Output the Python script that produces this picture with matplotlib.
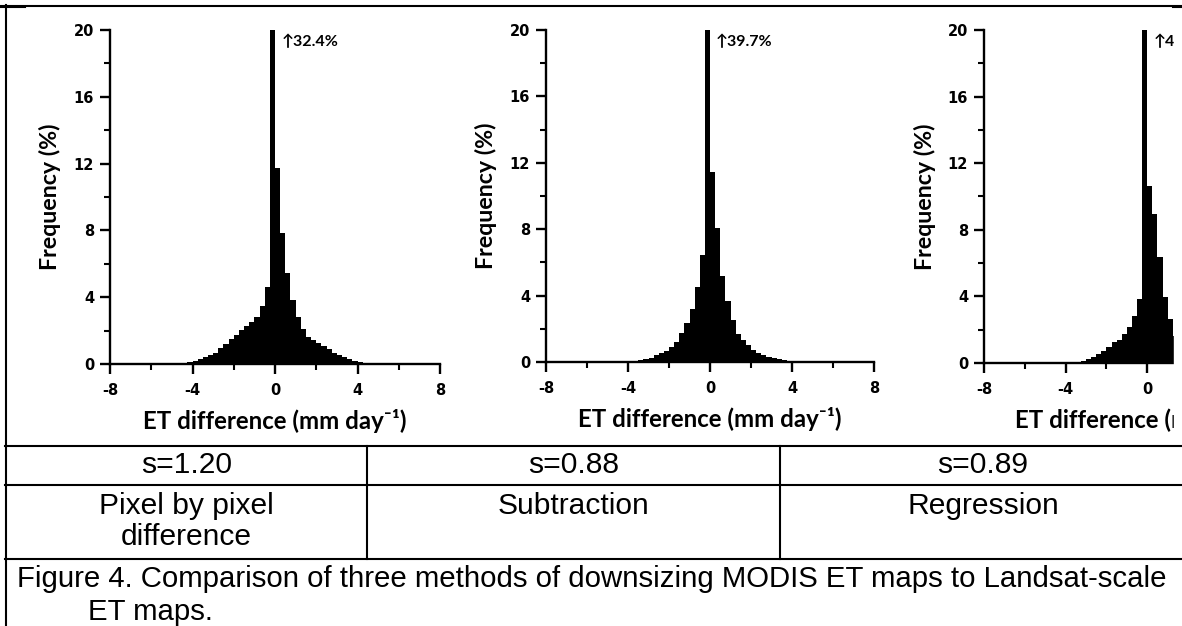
import matplotlib
matplotlib.use("Agg")
import matplotlib.pyplot as plt
import numpy as np
from matplotlib.patches import Rectangle

bold_font = ['Lato', 'DejaVu Sans']
plt.rcParams['axes.unicode_minus'] = False
plt.rcParams['font.family'] = bold_font
plt.rcParams['font.weight'] = 'bold'
plt.rcParams['axes.labelweight'] = 'bold'

# ---------------- data ----------------
bin_width = 0.25
edges_start = -5.0

freq_pixel = [0.01, 0.03, 0.06, 0.12, 0.20, 0.28, 0.40, 0.54, 0.68, 0.94,
              1.20, 1.48, 1.74, 2.03, 2.27, 2.53, 2.83, 3.45, 4.63, 32.4,
              11.76, 7.86, 5.43, 3.85, 2.80, 2.10, 1.64, 1.44, 1.24, 1.08,
              0.92, 0.66, 0.54, 0.42, 0.32, 0.20, 0.12, 0.07, 0.04, 0.02]
freq_subtraction = [0.0, 0.01, 0.01, 0.02, 0.04, 0.06, 0.10, 0.18, 0.27, 0.40,
                    0.53, 0.69, 0.91, 1.18, 1.72, 2.34, 3.20, 4.53, 6.44, 39.7,
                    11.46, 8.08, 5.17, 3.66, 2.55, 1.71, 1.31, 1.00, 0.70, 0.54,
                    0.40, 0.30, 0.22, 0.16, 0.10, 0.06, 0.03, 0.02, 0.01, 0.0]
# regression panel is cut at the right edge of the picture; peak bar clipped at 20
freq_regression = [0.0, 0.0, 0.01, 0.01, 0.02, 0.04, 0.08, 0.15, 0.26, 0.39,
                   0.55, 0.75, 0.97, 1.24, 1.39, 1.74, 2.14, 2.82, 3.86, 40.0,
                   10.66, 8.94, 6.38, 3.99, 2.62, 1.65]

peak_labels = ["\u219132.4%", "\u219139.7%", "\u21914"]
s_values = ["s=1.20", "s=0.88", "s=0.89"]
methods = ["Pixel by pixel\ndifference", "Subtraction", "Regression"]
caption_1 = "Figure 4. Comparison of three methods of downsizing MODIS ET maps to Landsat-scale"
caption_2 = "ET maps."
xticks = [-8, -4, 0, 4, 8]
yticks = [0, 4, 8, 12, 16, 20]

W, H = 1182, 626
fig = plt.figure(figsize=(W / 100, H / 100), dpi=100)

# panel geometry in pixels: (x of -8, x of +8, y of 0, y of 20)
panels = [(110, 440, 364, 30), (546, 874, 362, 30), (984, 1310.4, 363, 30)]
series = [freq_pixel, freq_subtraction, freq_regression]
visible_xticks = [xticks, xticks, [-8, -4, 0]]

for (x0, x1, yb, yt), vals, lab, vt in zip(panels, series, peak_labels, visible_xticks):
    ax = fig.add_axes([x0 / W, 1 - yb / H, (x1 - x0) / W, (yb - yt) / H])
    vals = np.asarray(vals)
    edges = edges_start + bin_width * np.arange(len(vals) + 1)
    ax.stairs(vals, edges, fill=True, color='black', baseline=0)
    ax.set_xlim(-8, 8)
    ax.set_ylim(0, 20)
    for sp in ['top', 'right']:
        ax.spines[sp].set_visible(False)
    for sp in ['left', 'bottom']:
        ax.spines[sp].set_linewidth(1.7)
    ax.set_xticks(vt)
    ax.set_xticks([m for m in [-6, -2, 2, 6] if m < max(vt)], minor=True)
    ax.set_yticks(yticks)
    ax.set_yticks([2, 6, 10, 14, 18], minor=True)
    ax.tick_params(which='major', length=7.5, width=1.7, pad=4, labelsize=10.5,
                   labelfontfamily='DejaVu Sans')
    ax.tick_params(axis='x', which='major', pad=6.5)
    ax.tick_params(which='minor', length=4, width=1.5)
    ax.set_xlabel("ET difference (mm day\u207b\u00b9)", fontsize=17.3, fontweight='bold')
    ax.set_ylabel("Frequency (%)", fontsize=16.7, fontweight='bold')
    ax.xaxis.set_label_coords(0.5, -0.171)
    ax.xaxis.label.set_va('center')
    ax.yaxis.set_label_coords(-0.182, 0.5)
    ax.yaxis.label.set_va('center')
    ax.text(0.3, 19.3, lab, fontsize=11.5, fontweight='bold',
            ha='left', va='center', clip_on=False)
    ax.patch.set_alpha(0)

# overlay for table lines and texts (pixel coordinates)
ov = fig.add_axes([0, 0, 1, 1])
ov.set_xlim(0, W)
ov.set_ylim(H, 0)
ov.axis('off')
ov.patch.set_alpha(0)

# blank the right strip where the picture is cut
ov.add_patch(Rectangle((1174, 7), 12, 438, color='white', zorder=5))

lw = 1.5
ov.plot([0, W], [5.5, 5.5], color='black', lw=lw, zorder=6)
ov.plot([0, 25], [6.5, 6.5], color='black', lw=lw, zorder=6)
ov.plot([1173, W], [6.5, 6.5], color='black', lw=lw, zorder=6)
ov.plot([5.5, 5.5], [5, H], color='black', lw=lw, zorder=6)
for yy in [446, 485, 559]:
    ov.plot([5, W], [yy, yy], color='black', lw=lw, zorder=6)
for xx in [367, 780]:
    ov.plot([xx, xx], [446, 559], color='black', lw=lw, zorder=6)

cell_centers = [186.5, 573.5, 983]
tfont = 'Liberation Sans'
for cx, s, m in zip(cell_centers, s_values, methods):
    ov.text(cx, 465, s, fontsize=21.6, family=tfont, fontweight='normal',
            ha='center', va='center')
    ov.text(cx, 492, m, fontsize=21.6, family=tfont, fontweight='normal',
            ha='center', va='top', linespacing=1.15)

ov.text(17, 579, caption_1, fontsize=21.2, family=tfont, fontweight='normal',
        ha='left', va='center')
ov.text(88, 612, caption_2, fontsize=21.2, family=tfont, fontweight='normal',
        ha='left', va='center')

fig.savefig("out.png", dpi=100)
